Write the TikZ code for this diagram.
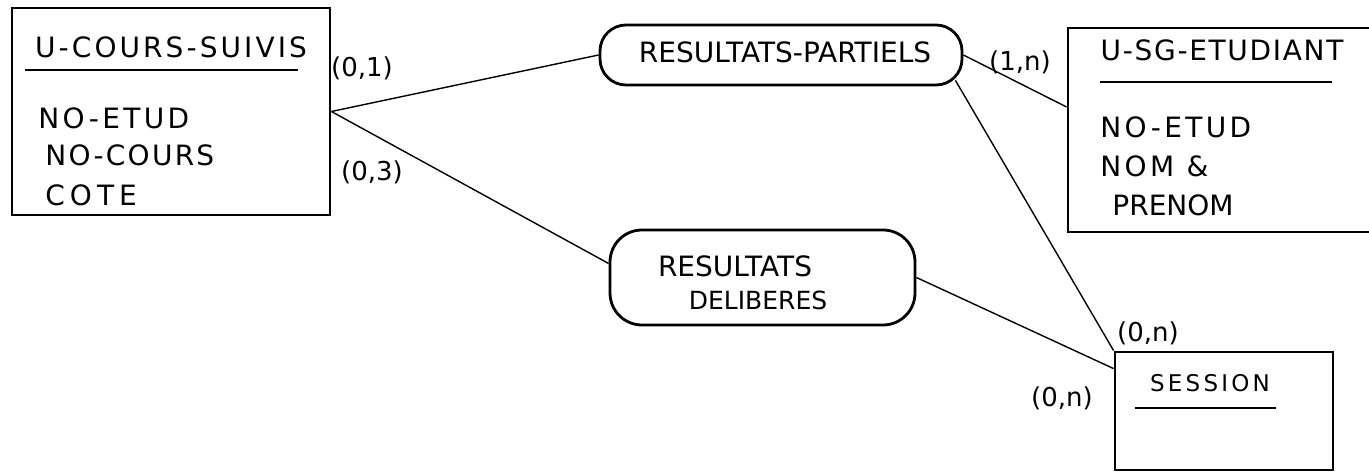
\documentclass[tikz,border=0pt]{standalone}
\usepackage{fontspec}
\setmainfont{DejaVu Sans}
\usetikzlibrary{calc}
\begin{document}
\begin{tikzpicture}[x=0.5pt,y=-0.5pt,
  ent/.style={draw, line width=1.4pt, rectangle, inner sep=0pt},
  rel/.style={draw, line width=1.4pt, rectangle, rounded corners=13pt, inner sep=0pt},
  conn/.style={line width=0.7pt},
  uline/.style={line width=1.1pt},
  txt/.style={font=\fontsize{14}{16}\selectfont, inner sep=0pt},
  attr/.style={txt, anchor=west, font=\fontsize{14}{16}\selectfont\addfontfeature{LetterSpace=12}},
  card/.style={font=\fontsize{13}{15}\selectfont, inner sep=0pt}]
\clip (0,0) rectangle (1369,474);
\fill[white] (0,0) rectangle (1369,474);
% entities
\node[ent, minimum width=159pt, minimum height=103.5pt] (ucs) at (171,111.5) {};
\node[txt] (ucst) at (171,47) {\addfontfeature{LetterSpace=11}U-COURS-SUIVIS};
\draw[uline] (25,70) -- (298,70);
\node[attr] (a1) at (38,118) {NO-ETUD};
\node[attr, font=\fontsize{14}{16}\selectfont\addfontfeature{LetterSpace=8}] (a2) at (45,155) {NO-COURS};
\node[attr, font=\fontsize{14}{16}\selectfont\addfontfeature{LetterSpace=18}] (a3) at (45,195) {COTE};

\node[ent, minimum width=156pt, minimum height=102pt] (usg) at (1224,130) {};
\node[txt] (usgt) at (1222,50) {\addfontfeature{LetterSpace=6}U-SG-ETUDIANT};
\draw[uline] (1100,82) -- (1332,82);
\node[attr] (b1) at (1100,127) {NO-ETUD};
\node[attr] (b2) at (1100,166) {NOM \&};
\node[attr, font=\fontsize{14}{16}\selectfont] (b3) at (1112,205) {PRENOM};

\node[ent, minimum width=109pt, minimum height=59pt] (ses) at (1224,411) {};
\node[txt, font=\fontsize{11.5}{14}\selectfont\addfontfeature{LetterSpace=14}] (sest) at (1210,383) {SESSION};
\draw[uline] (1135,408) -- (1276,408);

% relationships
\node[rel, minimum width=181pt, minimum height=30pt] (rp) at (781,55) {};
\node[txt] (rpt) at (785,52) {RESULTATS-PARTIELS};
\node[rel, rounded corners=16pt, minimum width=152.5pt, minimum height=47.5pt] (rd) at (762.5,277.5) {};
\node[txt] (rdt1) at (735,266) {RESULTATS};
\node[txt, font=\fontsize{12.5}{14}\selectfont] (rdt2) at (758,300) {DELIBERES};

% connectors
\coordinate (sesin) at ([yshift=-9pt]ses.north west);
\draw[conn] (ucs.east) -- (rp.west);
\draw[conn] (ucs.east) -- ([yshift=7pt]rd.west);
\draw[conn] (rp.east) -- ([yshift=11.5pt]usg.west);
\draw[conn] ([xshift=-4pt,yshift=3pt]rp.south east) -- (ses.north west);
\draw[conn] (rd.east) -- (sesin);

% cardinalities
\node[card] (c1) at (362,68) {(0,1)};
\node[card] (c2) at (372,172) {(0,3)};
\node[card] (c3) at (1020,62) {(1,n)};
\node[card] (c4) at (1148,333) {(0,n)};
\node[card] (c5) at (1062,398) {(0,n)};
\end{tikzpicture}
\end{document}
